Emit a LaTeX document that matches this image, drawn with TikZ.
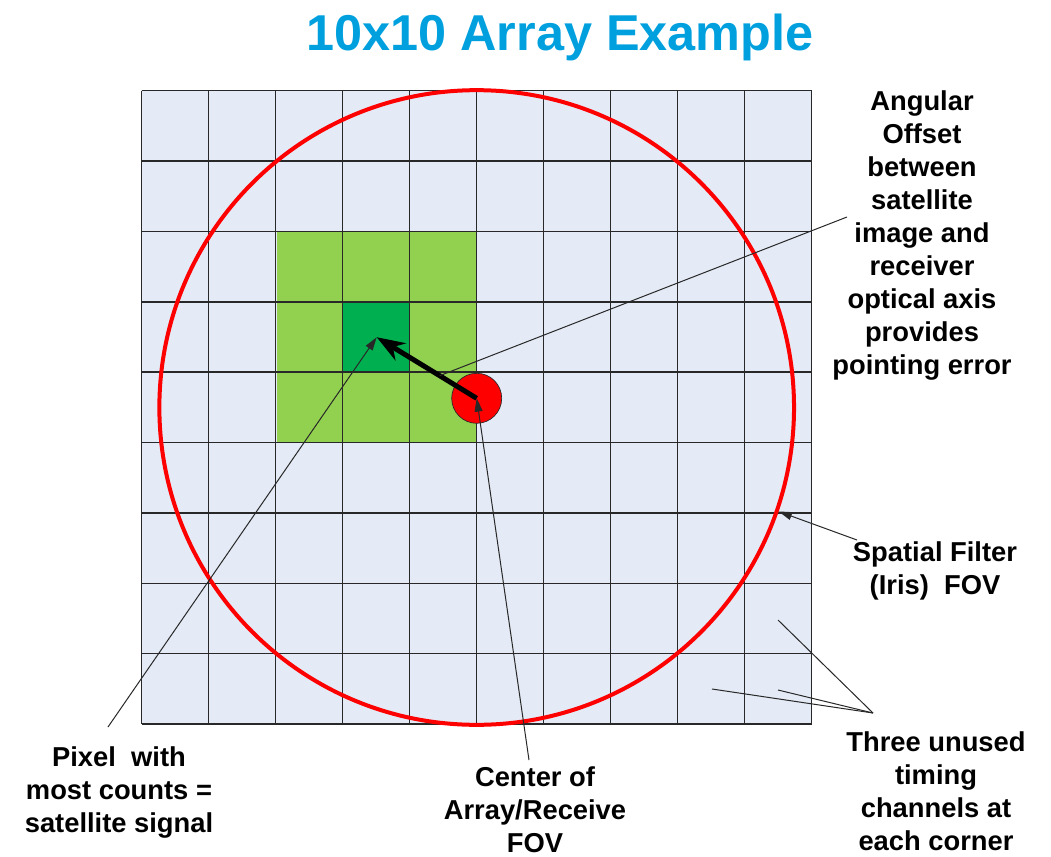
\documentclass[tikz,border=0pt]{standalone}
\usepackage{fontspec}
\setmainfont{Liberation Sans}
\usetikzlibrary{arrows.meta,positioning}
\definecolor{titulo}{RGB}{0,160,222}
\definecolor{celda}{RGB}{228,235,246}
\definecolor{verdeclaro}{RGB}{146,208,80}
\definecolor{verdeoscuro}{RGB}{0,176,80}
\definecolor{rojo}{RGB}{255,0,0}
\definecolor{trazo}{RGB}{40,40,40}

\begin{document}
\begin{tikzpicture}[x=0.75pt,y=-0.75pt,
        etiqueta/.style={font=\fontsize{20.5}{24.75}\selectfont\bfseries,align=center,
                         anchor=north,inner sep=0pt},
        rejilla/.style={trazo,line width=1.1pt},
        guia/.style={trazo,line width=0.75pt},
        flecha/.style={guia,-{Triangle[length=10pt,width=6pt]}}]
      \useasboundingbox (0,0) rectangle (1051,857);
      \node[font=\fontsize{37.8}{45}\selectfont\bfseries,text=titulo,anchor=base,inner sep=0pt]
        (titulo) at (560,50) {10x10 Array Example};
      % array 10 x 9 celdas
      \fill[celda] (141.7,90.7) rectangle (811.7,724);
      \fill[verdeclaro] (276.7,231.4) rectangle (476.7,442.5);
      \node[fill=verdeoscuro,minimum width=50.25pt,minimum height=52.8pt,inner sep=0pt,outer sep=0pt]
        (pico) at (376.7,337.2) {};
      \foreach \i in {0,...,10} \draw[rejilla] ({141.7+67*\i},90.7) -- ++(0,633.3);
      \foreach \j in {0,...,9} \draw[rejilla] (141.7,{90.7+70.37*\j}) -- ++(670,0);
      % campos de vision
      \node[circle,draw=rojo,line width=3pt,minimum size=476pt,inner sep=0pt] (iris) at (476.7,407.5) {};
      \node[circle,fill=rojo,draw=trazo,line width=0.5pt,minimum size=37.5pt,inner sep=0pt] (fov) at (476.7,398.3) {};
      \draw[line width=3.75pt,-{Stealth[length=21pt,width=15pt]}] (fov.center) -- coordinate[pos=0.37] (desvio) (pico.center);
      % textos
      \node[etiqueta] (angular) at (922,90) {Angular\\Offset\\between\\satellite\\image and\\receiver\\optical axis\\provides\\pointing error};
      \node[etiqueta] (filtro) at (935,541) {Spatial Filter\\(Iris)\ \ FOV};
      \node[etiqueta] (canales) at (936,731) {Three unused\\timing\\channels at\\each corner};
      \node[etiqueta] (centro) at (535,766) {Center of\\Array/Receive\\FOV};
      \node[etiqueta] (pixel) at (119,746) {Pixel\ \ with\\most counts =\\satellite signal};
      % lineas de referencia
      \coordinate (colaang) at (847,217);
      \coordinate (colapix) at (108,727);
      \coordinate (colacen) at (529,760);
      \coordinate (colafil) at (857,540);
      \coordinate (junta) at (873,713);
      \coordinate (esq1) at (778,620);
      \coordinate (esq2) at (778,690);
      \coordinate (esq3) at (712,689);
      \draw[guia] (colaang) -- (desvio);
      \draw[flecha] (colapix) -- (pico.center);
      \draw[flecha] (colacen) -- (fov.center);
      \draw[flecha] (colafil) -- (iris.-19.4);
      \foreach \e in {esq1,esq2,esq3} \draw[guia] (junta) -- (\e);
    \end{tikzpicture}
\end{document}
